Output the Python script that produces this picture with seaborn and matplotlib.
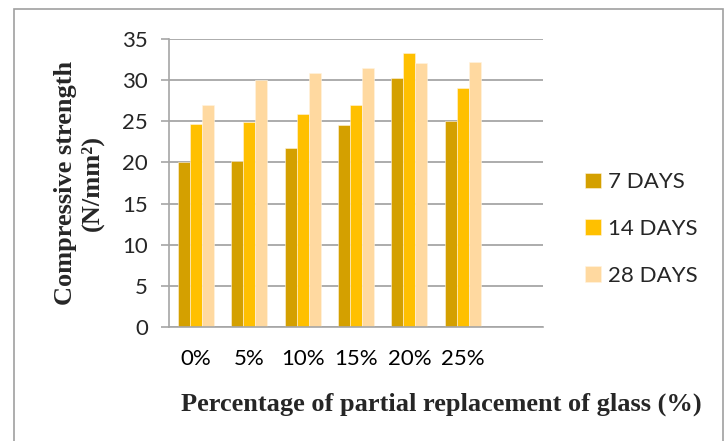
import pandas as pd
import matplotlib.pyplot as plt
import seaborn as sns
from matplotlib.patches import Rectangle

# values
percent = ["0%", "5%", "10%", "15%", "20%", "25%"]
days_7 = [20.0, 20.2, 21.8, 24.5, 30.3, 25.0]
days_14 = [24.7, 24.9, 25.9, 27.0, 33.3, 29.0]
days_28 = [27.0, 30.0, 30.9, 31.5, 32.1, 32.2]
series = ["7 DAYS", "14 DAYS", "28 DAYS"]
colors = ["#D4A000", "#FFC000", "#FFD9A0"]

df = pd.DataFrame({
    "Percent": percent * 3,
    "Strength": days_7 + days_14 + days_28,
    "Age": [s for s in series for _ in percent],
})

sns.set_style("white")
plt.rcParams["font.family"] = ["Lato", "DejaVu Sans"]

fig = plt.figure(figsize=(7.26, 4.41), dpi=100)
ax = fig.add_axes([169 / 726, 1 - 327 / 441, (543 - 169) / 726, (327 - 39) / 441])

# an empty 7th slot like in the original
order = percent + [" "]
sns.barplot(data=df, x="Percent", y="Strength", hue="Age", order=order,
            hue_order=series, palette=colors, saturation=1, width=0.675, gap=0,
            edgecolor="#FFF4E0", linewidth=0.4, ax=ax, legend=True)

ax.set_xlim(-0.5, 6.5)
ax.set_ylim(0, 35)
ax.set_yticks(range(0, 36, 5))
ax.yaxis.grid(True, color="#A6A6A6", linewidth=1.3)
ax.set_axisbelow(True)

for s in ["top", "right"]:
    ax.spines[s].set_visible(False)
for s in ["left", "bottom"]:
    ax.spines[s].set_color("#A6A6A6")
    ax.spines[s].set_linewidth(1.2)

ax.set_xticks(range(7))
ax.set_xticklabels(percent + [""])
ax.set_xticks([i - 0.5 for i in range(8)], minor=True)
ax.tick_params(axis="x", which="major", length=0, pad=16, labelsize=16, colors="black")
ax.tick_params(axis="x", which="minor", length=6, width=1.2, color="#A6A6A6", direction="out")
ax.tick_params(axis="y", length=6, width=1.2, color="#A6A6A6", direction="out",
               left=True, pad=9, labelsize=16)

ax.set_xlabel("")
ax.set_ylabel("")
fig.text(79 / 726, 1 - 183 / 441, "Compressive strength\n(N/mm²)", rotation=90,
         ha="center", va="center", fontsize=19, fontweight="bold",
         family="Liberation Serif", linespacing=1.15, multialignment="center")

fig.text(441 / 726, 1 - 404 / 441, "Percentage of partial replacement of glass (%)",
         ha="center", va="center", fontsize=19, fontweight="bold", family="Liberation Serif")

ax.legend(loc="center left", bbox_to_anchor=(585 / 726, 1 - 229 / 441),
          bbox_transform=fig.transFigure, frameon=False, fontsize=16,
          labelspacing=1.2, handlelength=0.7, handleheight=0.7,
          handletextpad=0.35, borderpad=0, borderaxespad=0)

# thin grey frame around the figure
fig.patches.append(Rectangle((14 / 726, -0.02), (723 - 14) / 726, 1 - 9 / 441 + 0.02,
                             transform=fig.transFigure, fill=False,
                             edgecolor="#A0A0A0", linewidth=1.2))

fig.savefig("out.png", dpi=100)
